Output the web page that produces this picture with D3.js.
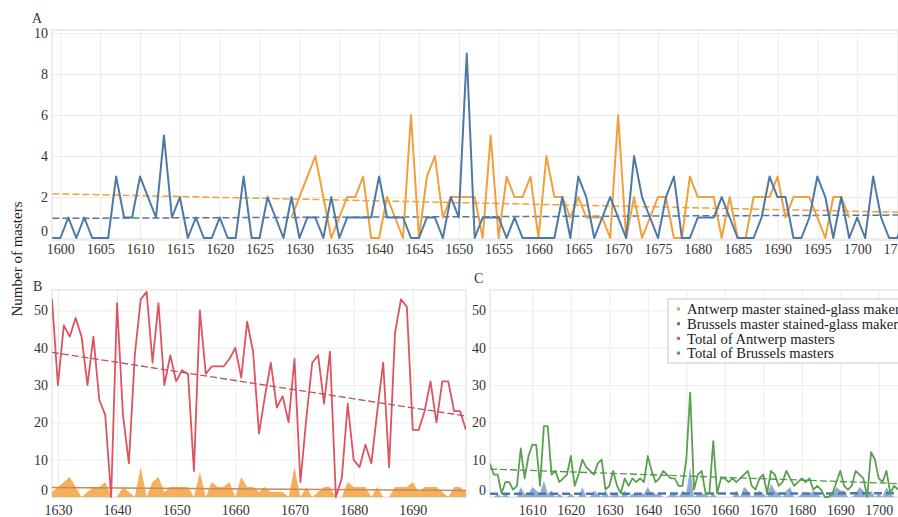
<!DOCTYPE html>
<html>
<head>
<meta charset="utf-8">
<script src="https://cdn.jsdelivr.net/npm/d3@7"></script>
<style>
body { margin: 0; background: #fff; }
svg { display: block; }
svg text { font-family: "Liberation Serif", "Times New Roman", Times, "DejaVu Serif", serif; }
.axis path { display: none; }
.axis text { fill: #333; font-size: 14px; }
.grid path { display: none; }
.grid line { stroke: #ececec; }
</style>
</head>
<body>
<div id="chart-area"></div>
<script>
const WIDTH = 898
const HEIGHT = 517

// Brussels master stained-glass makers, one value per year from 1599
const brusselsGlassStart = 1599
const brusselsGlass = [
	0, 0, 1, 0, 1, 0, 0, 0, 3, 1, 1, 3, 2, 1, 5, 1, 2, 0, 1, 0,
	0, 1, 0, 0, 3, 0, 0, 2, 1, 0, 2, 0, 1, 1, 0, 2, 0, 1, 1, 1,
	1, 3, 1, 1, 1, 0, 0, 1, 1, 0, 2, 1, 9, 0, 1, 1, 1, 0, 1, 0,
	0, 0, 0, 0, 2, 0, 3, 2, 0, 1, 2, 1, 0, 4, 2, 1, 0, 2, 3, 0,
	0, 1, 1, 1, 2, 1, 0, 0, 0, 1, 3, 2, 2, 0, 0, 1, 3, 2, 0, 2,
	0, 1, 0, 3, 1, 0, 0, 1
]

// Antwerp master stained-glass makers, from 1629
const antwerpStart = 1629
const antwerpGlass = [
	1, 2, 3, 4, 2, 0, 1, 2, 2, 3, 0, 0, 2, 1, 0, 6, 0, 3, 4, 1,
	2, 2, 2, 2, 0, 5, 0, 3, 2, 2, 3, 0, 4, 2, 2, 1, 2, 1, 1, 1,
	0, 6, 0, 2, 0, 1, 2, 2, 0, 0, 3, 2, 2, 2, 0, 2, 0, 0, 2, 2,
	2, 3, 1, 2, 2, 2, 1, 0, 2, 2, 1
]

// Total of Antwerp masters, from 1629
const antwerpTotal = [
	53, 30, 46, 43, 48, 43, 30, 43, 26, 22, 0, 52, 22, 9, 38, 53, 55, 36, 52, 30,
	38, 31, 34, 33, 7, 50, 33, 35, 35, 35, 37, 40, 32, 47, 39, 17, 27, 36, 24, 27,
	20, 37, 4, 21, 36, 38, 25, 39, 0, 5, 25, 10, 8, 14, 9, 23, 36, 8, 44, 53,
	51, 18, 18, 23, 31, 20, 31, 31, 23, 23, 18
]

// Total of Brussels masters, from 1599
const brusselsTotal = [
	9, 6, 6, 1, 4, 4, 2, 3, 13, 5, 11, 14, 14, 3, 19, 19, 6, 7, 4, 5,
	6, 11, 3, 6, 10, 8, 7, 6, 9, 10, 2, 3, 7, 3, 1, 5, 3, 5, 4, 5,
	4, 11, 7, 4, 5, 7, 6, 5, 5, 3, 3, 10, 28, 2, 6, 7, 1, 1, 15, 1,
	5, 5, 4, 5, 4, 5, 6, 7, 3, 2, 5, 6, 1, 7, 6, 3, 4, 7, 5, 3,
	4, 5, 4, 5, 2, 3, 2, 0, 0, 1, 4, 7, 3, 2, 3, 7, 6, 5, 0, 12,
	10, 5, 4, 7, 1, 3, 2
]

// linear trend lines, read as end points [year, value]
const trendAntwerpGlass = [[1599, 2.16], [1706, 1.25]]
const trendBrusselsGlass = [[1599, 0.96], [1706, 1.12]]
const trendAntwerpTotal = [[1629, 38.8], [1699, 21.7]]
const trendBrusselsTotal = [[1599, 7.5], [1705, 3.6]]

// tick labels
const ticksAx = [1600, 1605, 1610, 1615, 1620, 1625, 1630, 1635, 1640, 1645, 1650,
	1655, 1660, 1665, 1670, 1675, 1680, 1685, 1690, 1695, 1700, 1705]
const ticksAy = [0, 2, 4, 6, 8, 10]
const ticksBx = [1630, 1640, 1650, 1660, 1670, 1680, 1690]
const ticksCx = [1610, 1620, 1630, 1640, 1650, 1660, 1670, 1680, 1690, 1700]
const ticksBCy = [0, 10, 20, 30, 40, 50]

const legendItems = [
	{ label: "Antwerp master stained-glass makers", color: "#f0a03c" },
	{ label: "Brussels master stained-glass makers", color: "#4e79a7" },
	{ label: "Total of Antwerp masters", color: "#e0575e" },
	{ label: "Total of Brussels masters", color: "#59a14f" }
]

const COLORS = { orange: "#f0a03c", blue: "#4e79a7", red: "#dd5360", green: "#59a14f" }

const toPoints = (start, values) => values.map((v, i) => ({ year: start + i, value: v }))
const bGlass = toPoints(brusselsGlassStart, brusselsGlass)
const aGlass = toPoints(antwerpStart, antwerpGlass)
const aTotal = toPoints(antwerpStart, antwerpTotal)
const bTotal = toPoints(brusselsGlassStart, brusselsTotal)

const svg = d3.select("#chart-area").append("svg")
	.attr("width", WIDTH)
	.attr("height", HEIGHT)

// panel boxes
const PANEL_A = { left: 52, right: 905, top: 30, bottom: 240 }
const PANEL_B = { left: 52, right: 466, top: 290, bottom: 497 }
const PANEL_C = { left: 490, right: 905, top: 290, bottom: 497 }

// scales
const xA = d3.scaleLinear().domain([1599, 1706]).range([52.4, 905])
const yA = d3.scaleLinear().domain([0, 10.15]).range([238, 30])
const xB = d3.scaleLinear().domain([1629, 1699]).range([52, 466])
const yB = d3.scaleLinear().domain([0, 55.5]).range([497, 290])
const yBArea = d3.scaleLinear().domain([0, 41.4]).range([497, 290])
const xC = d3.scaleLinear().domain([1599, 1705]).range([490, 898])
const yC = yB
const yCArea = d3.scaleLinear().domain([0, 62.7]).range([497, 290])

function clip(id, p) {
	svg.append("clipPath").attr("id", id)
		.append("rect")
		.attr("x", p.left).attr("y", p.top - 2)
		.attr("width", p.right - p.left).attr("height", p.bottom - p.top + 4)
}
clip("clipA", PANEL_A)
clip("clipB", PANEL_B)
clip("clipC", PANEL_C)

function drawPanel(p, x, y, xTicks, yTicks) {
	const g = svg.append("g")
	// grid
	g.append("g").attr("class", "grid")
		.attr("transform", `translate(0, ${p.bottom})`)
		.call(d3.axisBottom(x).tickValues(xTicks).tickSize(-(p.bottom - p.top)).tickFormat(""))
	g.append("g").attr("class", "grid")
		.attr("transform", `translate(${p.left}, 0)`)
		.call(d3.axisLeft(y).tickValues(yTicks).tickSize(-(p.right - p.left)).tickFormat(""))
	// frame
	g.append("rect")
		.attr("x", p.left).attr("y", p.top)
		.attr("width", p.right - p.left).attr("height", p.bottom - p.top)
		.attr("fill", "none").attr("stroke", "#dcdcdc")
	// axes
	g.append("g").attr("class", "axis")
		.attr("transform", `translate(0, ${p.bottom})`)
		.call(d3.axisBottom(x).tickValues(xTicks).tickSize(0).tickPadding(p === PANEL_A ? 4 : 8).tickFormat(d3.format("d")))
	const yAxis = g.append("g").attr("class", "axis")
		.attr("transform", `translate(${p.left}, 0)`)
		.call(d3.axisLeft(y).tickValues(yTicks).tickSize(0).tickPadding(4))
	// the zero label sits a little above its line in the original
	yAxis.selectAll(".tick text").filter(d => d === 0).attr("y", -7)
	g.selectAll(".axis").attr("font-family", null)
	return g
}

drawPanel(PANEL_A, xA, yA, ticksAx, ticksAy)
drawPanel(PANEL_B, xB, yB, ticksBx, ticksBCy)
drawPanel(PANEL_C, xC, yC, ticksCx, ticksBCy)

// ---------- panel A ----------
const gA = svg.append("g").attr("clip-path", "url(#clipA)")
const lineA = d3.line().x(d => xA(d.year)).y(d => yA(d.value))
const trendLineA = d3.line().x(d => xA(d[0])).y(d => yA(d[1]))

gA.append("path")
	.attr("d", trendLineA(trendAntwerpGlass))
	.attr("fill", "none").attr("stroke", COLORS.orange)
	.attr("stroke-width", 1.5).attr("stroke-dasharray", "7,3")
gA.append("path")
	.attr("d", trendLineA(trendBrusselsGlass))
	.attr("fill", "none").attr("stroke", COLORS.blue)
	.attr("stroke-width", 1.5).attr("stroke-dasharray", "7,3")
gA.append("path")
	.attr("d", lineA(aGlass))
	.attr("fill", "none").attr("stroke", COLORS.orange)
	.attr("stroke-width", 2).attr("stroke-linejoin", "round")
gA.append("path")
	.attr("d", lineA(bGlass))
	.attr("fill", "none").attr("stroke", COLORS.blue)
	.attr("stroke-width", 2).attr("stroke-linejoin", "round")

// ---------- panel B ----------
const gB = svg.append("g").attr("clip-path", "url(#clipB)")
const areaB = d3.area().x(d => xB(d.year)).y0(yBArea(0)).y1(d => yBArea(d.value))
gB.append("path")
	.attr("d", areaB(aGlass))
	.attr("fill", "#f5a64a").attr("opacity", 0.9)
gB.append("path")
	.attr("d", d3.line().x(d => xB(d[0])).y(d => yBArea(d[1]))(trendAntwerpGlass))
	.attr("fill", "none").attr("stroke", "#c98a55")
	.attr("stroke-width", 1.5)
gB.append("path")
	.attr("d", d3.line().x(d => xB(d.year)).y(d => yB(d.value))(aTotal))
	.attr("fill", "none").attr("stroke", COLORS.red)
	.attr("stroke-width", 1.8).attr("stroke-linejoin", "round")
gB.append("path")
	.attr("d", d3.line().x(d => xB(d[0])).y(d => yB(d[1]))(trendAntwerpTotal))
	.attr("fill", "none").attr("stroke", "#b8506a")
	.attr("stroke-width", 1.3).attr("stroke-dasharray", "7,3")

// ---------- panel C ----------
const gC = svg.append("g").attr("clip-path", "url(#clipC)")
const areaC = d3.area().x(d => xC(d.year)).y0(yCArea(0)).y1(d => yCArea(d.value))
gC.append("path")
	.attr("d", areaC(bGlass))
	.attr("fill", "#7f9fcc").attr("opacity", 0.85)
gC.append("path")
	.attr("d", d3.line().x(d => xC(d[0])).y(d => yCArea(d[1]))(trendBrusselsGlass))
	.attr("fill", "none").attr("stroke", COLORS.blue)
	.attr("stroke-width", 2.5).attr("stroke-dasharray", "8,4")
gC.append("path")
	.attr("d", d3.line().x(d => xC(d.year)).y(d => yC(d.value))(bTotal))
	.attr("fill", "none").attr("stroke", COLORS.green)
	.attr("stroke-width", 1.8).attr("stroke-linejoin", "round")
gC.append("path")
	.attr("d", d3.line().x(d => xC(d[0])).y(d => yC(d[1]))(trendBrusselsTotal))
	.attr("fill", "none").attr("stroke", "#4f9a47")
	.attr("stroke-width", 1.3).attr("stroke-dasharray", "7,3")

// ---------- legend ----------
const legend = svg.append("g").attr("transform", "translate(668, 299)")
legend.append("rect")
	.attr("width", 245).attr("height", 64)
	.attr("fill", "#fff").attr("stroke", "#c8c8c8")
legendItems.forEach((item, i) => {
	const row = legend.append("g").attr("transform", `translate(0, ${10 + i * 14.7})`)
	row.append("rect")
		.attr("x", 9).attr("y", -1.5).attr("width", 3).attr("height", 3)
		.attr("fill", item.color)
	row.append("text")
		.attr("x", 19).attr("dy", "0.35em")
		.attr("font-size", "14.6px").attr("fill", "#222")
		.text(item.label)
})

// ---------- panel letters and axis title ----------
svg.append("text").attr("x", 32).attr("y", 23).attr("font-size", "14px").attr("fill", "#333").text("A")
svg.append("text").attr("x", 33).attr("y", 291).attr("font-size", "14px").attr("fill", "#333").text("B")
svg.append("text").attr("x", 474).attr("y", 283).attr("font-size", "14px").attr("fill", "#333").text("C")

svg.append("text")
	.attr("transform", "translate(22, 259) rotate(-90)")
	.attr("text-anchor", "middle")
	.attr("font-size", "15px").attr("fill", "#222")
	.text("Number of masters")
</script>
</body>
</html>
